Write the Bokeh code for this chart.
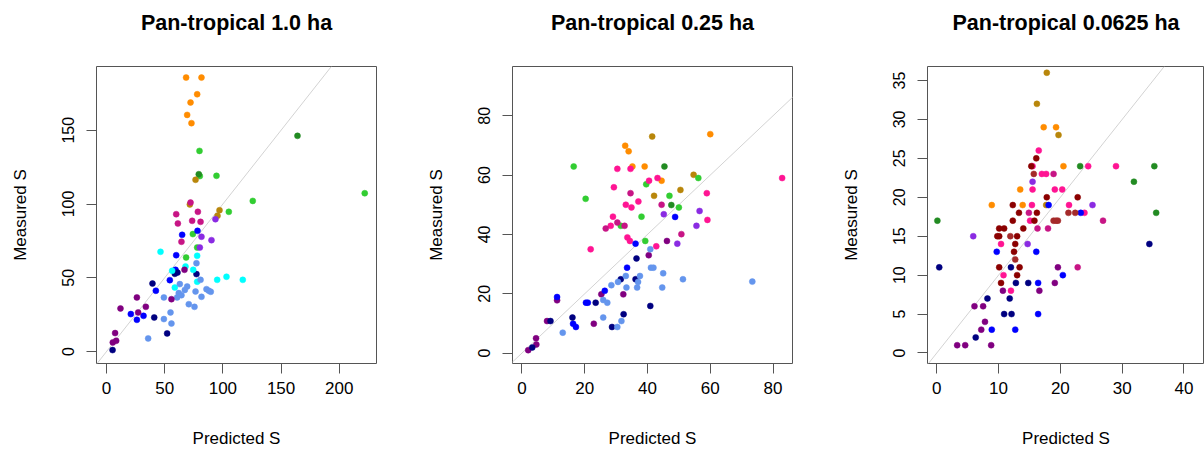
from bokeh.plotting import figure
from bokeh.layouts import row, column
from bokeh.models import Range1d, FixedTicker, Slope
from bokeh.core.properties import value
from bokeh.embed import file_html
from bokeh.resources import INLINE

# ---------------- data ----------------
TITLES = ["Pan-tropical 1.0 ha", "Pan-tropical 0.25 ha", "Pan-tropical 0.0625 ha"]
X_LABEL = "Predicted S"
Y_LABEL = "Measured S"

# group codes -> colour
GROUP_COLORS = {
    "A": "#FF8C00", "B": "#B8860B", "C": "#32CD32", "D": "#228B22",
    "E": "#FF1493", "F": "#C71585", "G": "#8A2BE2", "H": "#800080",
    "I": "#0000FF", "J": "#000080", "K": "#6495ED", "L": "#00FFFF",
    "M": "#8B0000", "N": "#A52A2A",
}

# Panel 1: 1.0 ha
P1_PRED = [68.4, 81.6, 77.9, 72.2, 69.3, 73.0,
           79.9, 80.2, 94.5, 125.7, 105.1, 221.9, 74.2, 77.9, 68.4,
           79.3, 164.1,
           76.5, 71.6, 97.1, 95.4,
           72.2, 59.9, 61.3, 78.5, 73.6, 80.8, 64.4,
           93.6, 81.6, 90.2, 80.2,
           65.0, 78.2, 59.9, 59.3, 54.4, 42.4, 20.9, 26.1, 31.8,
           58.7, 61.0, 77.3, 39.5, 41.0, 52.1, 5.2,
           46.4, 56.4, 67.9, 74.5, 77.9, 77.9, 58.7, 95.1, 103.1, 117.1,
           77.3, 80.8, 63.0, 69.3, 67.3, 62.1, 64.4, 60.7, 76.5, 81.6,
           85.9, 87.9, 89.6, 49.3, 70.7, 75.6, 55.0, 49.3, 55.8, 35.8,
           67.0, 55.8, 26.1, 12.0, 27.2, 33.8, 7.4, 5.4, 8.3]
P1_MEAS = [185.7, 185.7, 174.4, 168.8, 160.4, 154.8,
           136.0, 118.9, 119.1, 102.1, 94.7, 107.3, 79.6, 70.5, 63.8,
           120.2, 146.2,
           116.4, 99.7, 95.8, 92.0,
           101.0, 93.1, 86.8, 94.7, 88.6, 87.9, 74.4,
           89.7, 77.8, 75.5, 70.5,
           79.1, 81.8, 65.3, 55.4, 48.4, 41.2, 25.4, 21.5, 24.2,
           52.7, 53.5, 52.5, 46.1, 23.1, 12.3, 1.0,
           67.6, 54.7, 57.7, 55.4, 64.9, 47.3, 43.4, 48.6, 50.7, 48.6,
           59.9, 48.6, 45.7, 44.1, 41.8, 39.6, 38.2, 36.7, 40.7, 37.1,
           42.3, 41.2, 40.5, 36.7, 32.1, 30.3, 26.5, 22.0, 19.0, 8.9,
           55.4, 35.5, 36.7, 29.2, 26.5, 30.3, 12.5, 6.2, 7.3]
P1_GROUP = (["A"] * 6 + ["C"] * 9 + ["D"] * 2 + ["B"] * 4 + ["F"] * 7 + ["G"] * 4
            + ["I"] * 9 + ["J"] * 7 + ["L"] * 10 + ["K"] * 20 + ["H"] * 9)

# Panel 2: 0.25 ha
P2_PRED = [32.9, 34.0, 35.2, 39.1, 44.5, 60.0,
           41.5, 54.7, 42.1, 50.5,
           45.4, 47.6,
           16.5, 20.3, 39.6, 47.0, 50.0, 56.2, 38.1, 31.5, 39.3,
           30.4, 34.6, 40.5, 43.2, 29.3, 33.1, 34.9, 37.1, 29.0, 28.3,
           33.6, 34.4, 42.8, 21.9, 58.9, 59.1, 82.9,
           34.6, 30.4, 32.7, 26.7, 44.5, 50.8,
           46.2, 40.4, 32.3, 25.3, 22.9, 11.2, 8.0, 4.5, 4.6, 2.0,
           45.2, 56.6, 55.6, 49.5,
           48.8, 36.2, 33.5, 26.4, 21.0, 20.4, 11.2, 16.3, 17.2,
           36.5, 31.5, 36.2, 23.5, 40.9, 32.4, 16.1, 9.1, 28.7, 3.3,
           40.9, 41.1, 41.9, 45.0, 51.3, 44.7, 37.6, 37.0, 36.7, 33.1,
           30.6, 28.5, 33.3, 25.9, 27.2, 25.9, 31.7, 30.4, 13.0, 73.4]
P2_MEAS = [69.9, 68.0, 62.9, 62.9, 58.1, 73.8,
           73.0, 60.1, 53.0, 55.0,
           62.9, 49.9,
           62.9, 52.0, 56.9, 53.0, 49.1, 59.0, 46.0, 42.9, 37.8,
           62.1, 62.1, 58.1, 59.0, 55.9, 50.0, 49.1, 51.1, 46.0, 42.9,
           39.0, 37.8, 36.0, 35.0, 53.9, 44.9, 59.0,
           53.9, 44.0, 42.9, 42.0, 50.0, 40.1,
           37.8, 33.0, 19.8, 19.8, 9.9, 17.8, 10.8, 5.0, 2.9, 1.0,
           46.8, 47.9, 42.9, 36.9,
           45.9, 36.9, 28.8, 21.0, 17.0, 17.0, 18.9, 9.9, 8.8,
           31.9, 24.9, 24.9, 17.0, 15.9, 13.1, 12.0, 10.8, 8.8, 1.9,
           35.0, 28.8, 28.8, 26.9, 24.9, 22.1, 26.0, 24.0, 22.1, 26.0,
           24.0, 22.9, 22.1, 17.9, 17.0, 12.0, 10.8, 8.8, 6.9, 24.1]
P2_GROUP = (["A"] * 6 + ["B"] * 4 + ["D"] * 2 + ["C"] * 9 + ["E"] * 17 + ["F"] * 6
            + ["H"] * 10 + ["G"] * 4 + ["I"] * 9 + ["J"] * 10 + ["K"] * 20)

# Panel 3: 0.0625 ha
P3_PRED = [17.8, 16.2, 19.7, 17.7,
           17.3, 19.3, 20.5, 13.5, 13.9, 8.9,
           23.2, 35.2, 31.9, 35.5, 0.1,
           16.5, 15.5, 17.0, 17.7, 15.5, 19.1, 20.3, 15.4, 21.4, 23.9,
           15.1, 10.4, 10.8, 12.0, 24.5, 29.0,
           18.9, 16.3, 18.0, 26.9, 22.8, 14.9,
           15.5, 25.2, 5.9, 14.7,
           19.6, 19.1, 10.7, 6.1, 7.5, 7.8, 7.2, 3.3, 4.6, 8.8, 16.6,
           18.1, 23.3, 9.7, 16.1, 20.4, 16.4, 16.4, 8.9, 12.7,
           0.4, 34.4, 12.0, 12.8, 14.8, 8.2, 11.8, 10.9, 12.1, 6.3,
           16.1, 15.3, 17.8, 22.8, 12.3, 13.3, 16.2, 12.3, 15.8, 10.1,
           10.9, 14.0, 9.8, 10.1, 13.0, 12.7, 12.5, 10.1, 13.4, 13.0, 10.4,
           15.7, 21.3, 22.4, 18.9, 19.3, 19.6, 11.9, 12.7]
P3_MEAS = [36, 32, 28, 19,
           29, 29, 24, 21, 19, 19,
           24, 24, 22, 18, 17,
           26, 24, 23, 23, 21, 21, 21, 19, 19, 18,
           17, 14, 10, 8, 24, 24,
           23, 16, 16, 17, 11, 18,
           22, 19, 15, 14,
           11, 9, 8, 6, 6, 4, 3, 1, 1, 1, 8,
           19, 18, 13, 13, 10, 9, 5, 3, 3,
           11, 14, 11, 9, 9, 7, 7, 5, 5, 2,
           25, 24, 20, 20, 19, 18, 18, 17, 17, 16,
           16, 16, 15, 15, 15, 14, 13, 11, 11, 10, 9,
           23, 18, 18, 17, 17, 17, 15, 12]
P3_GROUP = (["B"] * 4 + ["A"] * 6 + ["D"] * 5 + ["E"] * 16 + ["F"] * 6 + ["G"] * 4
            + ["H"] * 11 + ["I"] * 9 + ["J"] * 10 + ["M"] * 21 + ["N"] * 8)

X_TICKS = [[0, 50, 100, 150, 200], [0, 20, 40, 60, 80], [0, 10, 20, 30, 40]]
Y_TICKS = [[0, 50, 100, 150], [0, 20, 40, 60, 80], [0, 5, 10, 15, 20, 25, 30, 35]]

# ---------------- layout ----------------
X_RANGES = [(-8.6, 232.0), (-3.0, 86.2), (-1.5, 43.32)]
Y_RANGES = [(-8.1, 193.2), (-3.5, 96.6), (-1.35, 36.8)]
FRAME_W = [280, 280, 277]
FRAME_H = 297
HEADER_H = 44
BORDER_L = [96, 97, 96]
BORDER_R = [39, 39, 0]

FONT = "Liberation Sans"
AXIS_COL = "#555555"


def header(i):
    h = figure(frame_width=FRAME_W[i], frame_height=HEADER_H,
               x_range=Range1d(0, 1), y_range=Range1d(0, 1),
               min_border_left=BORDER_L[i], min_border_right=BORDER_R[i],
               min_border_top=0, min_border_bottom=0,
               x_axis_type=None, y_axis_type=None,
               output_backend="svg", toolbar_location=None,
               background_fill_color="white", border_fill_color="white")
    h.outline_line_color = None
    h.xgrid.visible = False
    h.ygrid.visible = False
    h.text(x=[0.5], y=[0.5], text=[TITLES[i]], text_align="center", text_baseline="middle",
           text_font=value(FONT), text_font_size="21.5px", text_font_style="bold",
           text_color="black")
    return h


def panel(i, pred, meas, grp):
    p = figure(frame_width=FRAME_W[i], frame_height=FRAME_H,
               x_range=Range1d(*X_RANGES[i]), y_range=Range1d(*Y_RANGES[i]),
               min_border_left=BORDER_L[i], min_border_right=BORDER_R[i],
               min_border_top=66 - HEADER_H, min_border_bottom=92,
               output_backend="svg", toolbar_location=None,
               background_fill_color="white", border_fill_color="white")
    p.xgrid.visible = False
    p.ygrid.visible = False
    p.outline_line_color = AXIS_COL
    p.outline_line_width = 1

    for ax, ticks, lab in ((p.xaxis, X_TICKS[i], X_LABEL), (p.yaxis, Y_TICKS[i], Y_LABEL)):
        ax.ticker = FixedTicker(ticks=ticks)
        ax.axis_line_color = None
        ax.major_tick_in = 0
        ax.major_tick_out = 10
        ax.major_tick_line_color = AXIS_COL
        ax.minor_tick_line_color = None
        ax.major_label_text_font = FONT
        ax.major_label_text_color = "black"
        ax.axis_label = lab
        ax.axis_label_text_font = FONT
        ax.axis_label_text_font_style = "normal"
        ax.axis_label_text_font_size = "17px"
        ax.axis_label_text_color = "black"
    p.xaxis.major_label_text_font_size = "17px"
    p.xaxis.major_label_standoff = 8
    p.xaxis.axis_label_standoff = 32
    p.yaxis.major_label_text_font_size = "16px"
    p.yaxis.major_label_orientation = "vertical"
    p.yaxis.major_label_standoff = 12
    p.yaxis.axis_label_standoff = 30

    slope = Slope(gradient=1, y_intercept=0, line_color="#D3D3D3", line_width=1, level="underlay")
    p.add_layout(slope)

    colors = [GROUP_COLORS[g] for g in grp]
    p.scatter(pred, meas, size=6, fill_color=colors, line_color=colors, line_width=0.5)
    return p


heads = [header(0), header(1), header(2)]
figs = [panel(0, P1_PRED, P1_MEAS, P1_GROUP),
        panel(1, P2_PRED, P2_MEAS, P2_GROUP),
        panel(2, P3_PRED, P3_MEAS, P3_GROUP)]
layout = column(row(*heads, spacing=0), row(*figs, spacing=0), spacing=0)

open("out.html", "w").write(file_html(layout, INLINE))
